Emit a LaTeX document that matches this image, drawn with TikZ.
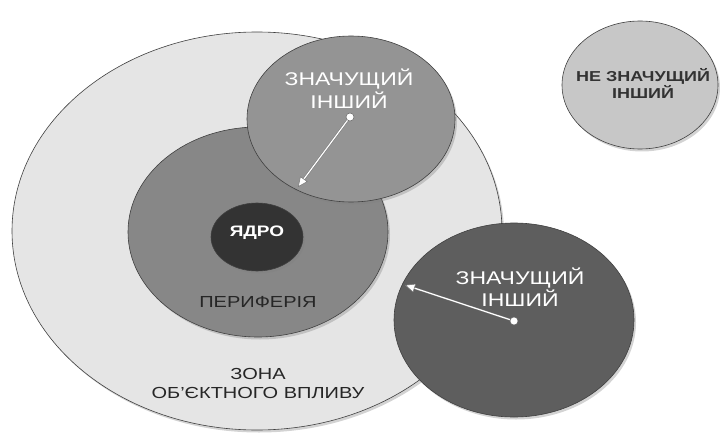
\documentclass[tikz,border=0pt]{standalone}
\usepackage{fontspec}
\setmainfont{Liberation Sans}
\usetikzlibrary{shapes.geometric,shadows,arrows.meta}
\newcommand{\sq}[1]{\scalebox{1}[0.8]{#1}}
\begin{document}
\begin{tikzpicture}[x=1pt,y=-1pt,
  circ/.style={ellipse,draw=black!75,line width=0.6pt,inner sep=0pt,
    drop shadow={opacity=0.35,shadow xshift=2pt,shadow yshift=-2.5pt}},
  txt/.style={align=center,inner sep=0pt,font=\fontsize{20}{19}\selectfont},
  dot/.style={circle,draw=black!60,fill=white,line width=0.5pt,inner sep=0pt,minimum size=8pt},
  link/.style={draw=black!55,double=white,double distance=1.2pt,line width=0.4pt,
    -{Triangle[length=10pt,width=9pt,fill=white,line width=0.5pt]}}]
\useasboundingbox (0,0) rectangle (720,433);
% zones
\node[circ,fill=black!10,minimum width=490pt,minimum height=398pt] (zona) at (257,231) {};
\node[circ,fill=black!47,minimum width=260pt,minimum height=210pt] (perif) at (258,232) {};
\node[circ,fill=black!80,minimum width=92pt,minimum height=68pt] (yadro) at (257,237) {};
\node[circ,fill=black!42,minimum width=208pt,minimum height=166pt] (inshyi1) at (351,119) {};
\node[circ,fill=black!63,minimum width=240pt,minimum height=194pt] (inshyi2) at (514,320) {};
\node[circ,fill=black!22,minimum width=156pt,minimum height=128pt] (neinshyi) at (640,85) {};
% texts
\node[txt,text=white,font=\fontsize{19}{22}\bfseries] (t-yadro) at (257,233) {\sq{ЯДРО}};
\node[txt,text=black!85] (t-perif) at (258,302) {\sq{ПЕРИФЕРІЯ}};
\node[txt,text=black!85] (t-zona) at (258,383) {\sq{ЗОНА}\\\sq{ОБ'ЄКТНОГО ВПЛИВУ}};
\node[txt,text=white,font=\fontsize{23}{23}\selectfont] (t-inshyi1) at (349,89) {\sq{ЗНАЧУЩИЙ}\\\sq{ІНШИЙ}};
\node[txt,text=white,font=\fontsize{23}{22}\selectfont] (t-inshyi2) at (520,287) {\sq{ЗНАЧУЩИЙ}\\\sq{ІНШИЙ}};
\node[txt,text=black!80,font=\fontsize{18}{17}\bfseries] (t-neinshyi) at (643,83) {\sq{НЕ ЗНАЧУЩИЙ}\\\sq{ІНШИЙ}};
% connectors
\node[dot] (d1) at (350,117) {};
\node[dot] (d2) at (514,321) {};
\coordinate (end1) at (298,187);
\coordinate (end2) at (405,285);
\draw[link] (d1) -- (end1);
\draw[link] (d2) -- (end2);
\end{tikzpicture}
\end{document}
